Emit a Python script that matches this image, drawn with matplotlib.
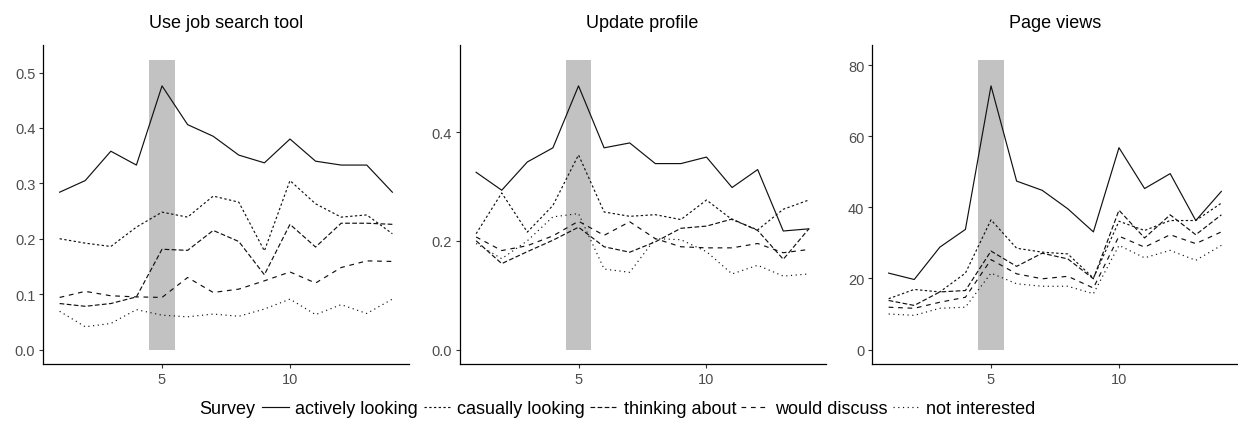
import matplotlib
matplotlib.use("Agg")
import matplotlib.pyplot as plt
from matplotlib.lines import Line2D
import numpy as np

plt.rcParams['font.family'] = ['Liberation Sans', 'DejaVu Sans']

weeks = list(range(1, 15))
panel_titles = ["Use job search tool", "Update profile", "Page views"]
survey_levels = ["actively looking", "casually looking", "thinking about",
                 "would discuss", "not interested"]

# Use job search tool
jst_active = [0.284, 0.305, 0.358, 0.333, 0.476, 0.406, 0.385, 0.351, 0.337, 0.380, 0.340, 0.333, 0.333, 0.284]
jst_casual = [0.200, 0.192, 0.186, 0.221, 0.248, 0.239, 0.277, 0.266, 0.178, 0.305, 0.263, 0.239, 0.243, 0.209]
jst_thinking = [0.083, 0.078, 0.083, 0.095, 0.181, 0.179, 0.215, 0.195, 0.135, 0.226, 0.185, 0.228, 0.228, 0.226]
jst_discuss = [0.094, 0.105, 0.097, 0.095, 0.094, 0.130, 0.103, 0.109, 0.124, 0.140, 0.120, 0.148, 0.160, 0.159]
jst_notint = [0.069, 0.041, 0.047, 0.072, 0.062, 0.059, 0.064, 0.060, 0.073, 0.091, 0.063, 0.081, 0.065, 0.091]

# Update profile
up_active = [0.326, 0.293, 0.345, 0.371, 0.485, 0.371, 0.380, 0.342, 0.342, 0.354, 0.298, 0.331, 0.218, 0.222]
up_casual = [0.213, 0.288, 0.216, 0.265, 0.358, 0.253, 0.245, 0.248, 0.239, 0.275, 0.239, 0.220, 0.258, 0.275]
up_thinking = [0.200, 0.158, 0.180, 0.201, 0.225, 0.189, 0.179, 0.198, 0.223, 0.227, 0.240, 0.219, 0.166, 0.222]
up_discuss = [0.207, 0.182, 0.191, 0.209, 0.236, 0.210, 0.235, 0.204, 0.189, 0.187, 0.187, 0.195, 0.178, 0.184]
up_notint = [0.195, 0.167, 0.200, 0.244, 0.250, 0.148, 0.142, 0.204, 0.202, 0.180, 0.139, 0.155, 0.135, 0.139]

# Page views
pv_active = [21.5, 19.7, 28.8, 33.8, 74.2, 47.4, 44.8, 39.6, 33.1, 56.8, 45.3, 49.5, 36.3, 44.5]
pv_casual = [14.3, 16.9, 16.2, 21.5, 36.5, 28.5, 27.4, 26.9, 20.1, 36.1, 33.5, 36.3, 36.3, 41.2]
pv_thinking = [13.8, 12.4, 16.2, 16.6, 27.7, 23.4, 27.1, 25.5, 19.9, 39.2, 31.4, 37.9, 32.3, 37.9]
pv_discuss = [11.9, 11.6, 13.3, 14.7, 25.3, 21.3, 19.9, 20.6, 17.3, 31.9, 28.8, 32.3, 29.8, 33.1]
pv_notint = [10.0, 9.6, 11.6, 11.9, 21.5, 18.5, 17.8, 17.8, 15.7, 29.3, 25.8, 27.9, 25.1, 29.3]

highlight_week = 5
y_ticks = [[0.0, 0.1, 0.2, 0.3, 0.4, 0.5], [0.0, 0.2, 0.4], [0, 20, 40, 60, 80]]
y_ticklabels = [["0.0", "0.1", "0.2", "0.3", "0.4", "0.5"], ["0.0", "0.2", "0.4"],
                ["0", "20", "40", "60", "80"]]
x_ticks = [5, 10]

panels = [
    [jst_active, jst_casual, jst_thinking, jst_discuss, jst_notint],
    [up_active, up_casual, up_thinking, up_discuss, up_notint],
    [pv_active, pv_casual, pv_thinking, pv_discuss, pv_notint],
]

styles = ['-', (0, (2, 2)), (0, (4, 2)), (0, (4, 4)), (0, (1, 3))]
LW = 0.85

W, H = 1238, 431
fig = plt.figure(figsize=(W / 100, H / 100), dpi=100)

lefts = [43, 459.5, 872]
pw = 366
top_px, bot_px = 46, 365

for i, (series, title) in enumerate(zip(panels, panel_titles)):
    ax = fig.add_axes([lefts[i] / W, 1 - bot_px / H, pw / W, (bot_px - top_px) / H])
    ymax = 1.1 * max(max(s) for s in series)
    ax.fill_between([highlight_week - 0.5, highlight_week + 0.5], 0, ymax,
                    color='#c2c2c2', linewidth=0, zorder=1)
    for s, ls in zip(series, styles):
        ax.plot(weeks, s, color='#111111', linestyle=ls, linewidth=LW, zorder=3,
                dash_capstyle='butt', solid_joinstyle='round')
    rng = ymax
    ax.set_ylim(-0.05 * rng, ymax + 0.05 * rng)
    xr = weeks[-1] - weeks[0]
    ax.set_xlim(weeks[0] - 0.05 * xr, weeks[-1] + 0.05 * xr)
    ax.set_xticks(x_ticks)
    ax.set_xticklabels([str(t) for t in x_ticks])
    ax.set_yticks(y_ticks[i])
    ax.set_yticklabels(y_ticklabels[i])
    for sp in ['top', 'right']:
        ax.spines[sp].set_visible(False)
    for sp in ['left', 'bottom']:
        ax.spines[sp].set_linewidth(0.9)
        ax.spines[sp].set_color('black')
    ax.tick_params(axis='both', length=3.0, width=0.8, color='#333333',
                   labelcolor='#4d4d4d', labelsize=10.5, pad=2.5)
    ax.set_title(title, fontsize=13, color='black', pad=13)

fig.text(255 / W, 1 - 410 / H, "Survey", ha='right', va='center', fontsize=13)
handles = [Line2D([0], [0], color='#111111', linestyle=ls, linewidth=LW) for ls in styles]
fig.legend(handles, survey_levels, loc='center left',
           bbox_to_anchor=(262 / W, 1 - 410 / H), ncol=5, frameon=False,
           fontsize=13, handlelength=1.5, handletextpad=0.35, columnspacing=0.3,
           borderpad=0, borderaxespad=0)

fig.savefig("out.png", dpi=100)
